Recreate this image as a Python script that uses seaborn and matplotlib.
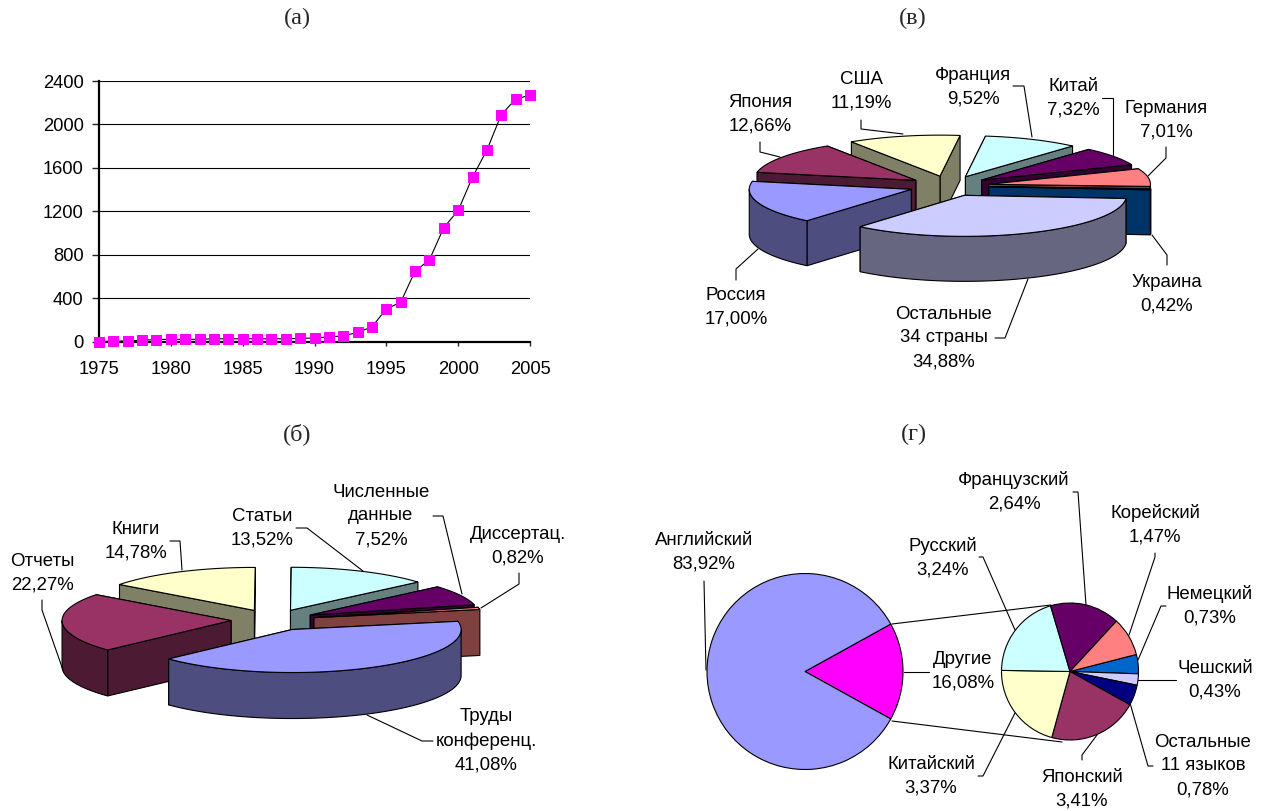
import numpy as np
import matplotlib
matplotlib.use("Agg")
import matplotlib.pyplot as plt
import seaborn as sns
from matplotlib.colors import to_rgb
from matplotlib.patches import Polygon

# (а) годы и значения
years = list(range(1975, 2006))
counts = [0, 3, 6, 12, 18, 20, 20, 20, 25, 25, 25, 25, 25, 25, 28, 33, 42, 52,
          83, 135, 300, 362, 648, 752, 1050, 1207, 1515, 1763, 2090, 2233, 2270]

# (в) страны
country_names = ["Остальные\n34 страны", "Россия", "Япония", "США", "Франция",
                 "Китай", "Германия", "Украина"]
country_values = [34.88, 17.00, 12.66, 11.19, 9.52, 7.32, 7.01, 0.42]
country_colors = ["#CCCCFF", "#9999FF", "#993366", "#FFFFCC", "#CCFFFF",
                  "#660066", "#FF8080", "#0066CC"]

# (б) типы документов
doc_names = ["Труды\nконференц.", "Отчеты", "Книги", "Статьи",
             "Численные\nданные", "Диссертац."]
doc_values = [41.08, 22.27, 14.78, 13.52, 7.52, 0.82]
doc_colors = ["#9999FF", "#993366", "#FFFFCC", "#CCFFFF", "#660066", "#FF8080"]

# (г) языки
main_names = ["Другие", "Английский"]
main_values = [16.08, 83.92]
main_colors = ["#FF00FF", "#9999FF"]
lang_names = ["Немецкий", "Чешский", "Остальные\n11 языков", "Японский",
              "Китайский", "Русский", "Французский", "Корейский"]
lang_values = [0.73, 0.43, 0.78, 3.41, 3.37, 3.24, 2.64, 1.47]
lang_colors = ["#0066CC", "#CCCCFF", "#000080", "#993366", "#FFFFCC", "#CCFFFF",
               "#660066", "#FF8080"]

W, H = 1265, 811
FS = 13.4
LW = 0.8

sns.set_style("white")
plt.rcParams["font.family"] = ["Liberation Sans", "DejaVu Sans"]

fig = plt.figure(figsize=(W / 100, H / 100), dpi=100)

# оверлей в пикселях для круговых диаграмм и подписей
ov = fig.add_axes([0, 0, 1, 1])


def pie3d(ax, values, colors, start, center, rx, ry, depth, gap, order):
    # наклонная круговая диаграмма с вынесенными секторами
    cx, cy = center
    edges = start + np.cumsum([0] + list(values)) * 3.6
    for i in order:
        t0, t1 = edges[i], edges[i + 1]
        mid = np.radians((t0 + t1) / 2)
        ax0 = cx + gap * np.cos(mid)
        ay0 = cy + gap * ry / rx * np.sin(mid)
        top = np.array(to_rgb(colors[i]))
        side = tuple(top * 0.5)

        def rim(a, b):
            t = np.radians(np.linspace(a, b, max(int(abs(b - a)) * 2, 2)))
            return np.column_stack([ax0 + rx * np.cos(t), ay0 + ry * np.sin(t)])

        arc = rim(t0, t1)
        drop = np.array([0, depth])
        apex = np.array([ax0, ay0])

        # боковые стенки: сначала та, что дальше
        ends = sorted([arc[0], arc[-1]], key=lambda p: p[1])
        for p in ends:
            ax.add_patch(Polygon([apex, p, p + drop, apex + drop], closed=True,
                                 fc=side, ec="black", lw=LW))
        # внешняя стенка, только передняя часть
        for k in (-1, 0, 1):
            a, b = max(t0, k * 360), min(t1, k * 360 + 180)
            if b > a:
                part = rim(a, b)
                ax.add_patch(Polygon(np.vstack([part, (part + drop)[::-1]]), closed=True,
                                     fc=side, ec="black", lw=LW))
        ax.add_patch(Polygon(np.vstack([apex, arc]), closed=True,
                             fc=colors[i], ec="black", lw=LW))


def pct(v):
    return f"{v:.2f}%".replace(".", ",")


def label(ax, name, value, x, y):
    ax.text(x, y + 1, name + "\n" + pct(value), ha="center", va="center", fontsize=FS,
            linespacing=1.53, color="black")


def leader(ax, pts):
    xs, ys = zip(*pts)
    ax.plot(xs, ys, color="black", lw=LW, solid_joinstyle="miter")


# (в)
pie3d(ov, country_values, country_colors, 4.5, (949, 186), 162, 41, 45, 40,
      [3, 4, 2, 5, 6, 7, 1, 0])
# (б)
pie3d(ov, doc_values, doc_colors, -11, (273, 620), 169, 43, 46, 42,
      [2, 3, 1, 4, 5, 0])

# (г)
wp = {"edgecolor": "black", "linewidth": LW}
ov.pie(main_values, colors=main_colors, startangle=-main_values[0] * 1.8,
       center=(805, 671.5), radius=98, wedgeprops=wp)
ov.pie(lang_values, colors=lang_colors, startangle=-14.4,
       center=(1070, 671.5), radius=68.5, wedgeprops=wp)
leader(ov, [(892, 624), (1051, 605)])
leader(ov, [(892, 721), (1062, 742)])

# подписи: (центр блока x, y)
country_pos = [(944, 337), (736, 306), (760, 113), (861, 90), (973, 86),
               (1073, 97), (1166, 119), (1167, 293)]
doc_pos = [(486, 740), (42, 572), (136, 540), (262, 527), (381, 515), (518, 545)]
main_pos = [(963, 670), (704, 551)]
lang_pos = [(1210, 605), (1215, 679), (1203, 765), (1082, 788), (931, 775),
            (943, 557), (1014, 491), (1155, 524)]

for names, vals, pos in [(country_names, country_values, country_pos),
                         (doc_names, doc_values, doc_pos),
                         (main_names, main_values, main_pos),
                         (lang_names, lang_values, lang_pos)]:
    for n, v, (x, y) in zip(names, vals, pos):
        label(ov, n, v, x, y)

leaders = [
    # (в)
    [(760, 142), (760, 152), (780, 157)],
    [(861, 120), (861, 129), (903, 134)],
    [(1013, 86), (1024, 86), (1032, 137)],
    [(1102, 98), (1113, 98), (1113, 155)],
    [(1166, 147), (1166, 158), (1148, 176)],
    [(1167, 265), (1167, 255), (1152, 235)],
    [(736, 280), (736, 269), (758, 249)],
    [(995, 338), (1005, 338), (1028, 279)],
    # (б)
    [(42, 600), (42, 610), (63, 670)],
    [(170, 541), (180, 541), (182, 570)],
    [(296, 528), (307, 528), (363, 571)],
    [(433, 516), (443, 516), (462, 594)],
    [(519, 573), (519, 584), (481, 608)],
    [(433, 741), (422, 741), (367, 715)],
    # (г)
    [(704, 581), (706, 670)],
    [(904, 672), (929, 672)],
    [(979, 557), (983, 557), (1015, 630)],
    [(1073, 492), (1078, 492), (1086, 605)],
    [(1155, 553), (1155, 557), (1129, 635)],
    [(1166, 606), (1161, 606), (1138, 660)],
    [(1176, 680), (1138, 680)],
    [(1153, 766), (1148, 766), (1130, 703)],
    [(1082, 760), (1082, 755), (1097, 735)],
    [(978, 776), (983, 776), (1015, 713)],
]
for pts in leaders:
    leader(ov, pts)

# заголовки панелей
for txt, x, y in [("(а)", 297, 18), ("(в)", 913, 18), ("(б)", 297, 434), ("(г)", 914, 434)]:
    ov.text(x, y, txt, ha="center", va="center", fontsize=17.5, family="Liberation Serif")

ov.set_aspect("auto")
ov.set_xlim(0, W)
ov.set_ylim(H, 0)
ov.axis("off")

# (а) линейный график
ax = fig.add_axes([99 / W, 1 - 341.5 / H, (530 - 99) / W, (341.5 - 81) / H])
ax.set_facecolor("none")
sns.lineplot(x=years, y=counts, ax=ax, color="black", lw=0.8, marker="s", markersize=7,
             markerfacecolor="#FF00FF", markeredgecolor="#FF00FF", clip_on=False, zorder=5)
ax.set_xlim(1975, 2005)
ax.set_ylim(0, 2400)
ax.set_xticks(range(1975, 2006, 5))
ax.set_yticks(range(0, 2401, 400))
ax.grid(axis="y", color="black", lw=0.8)
ax.grid(axis="x", visible=False)
ax.spines["top"].set_visible(False)
ax.spines["right"].set_visible(False)
ax.spines["left"].set_linewidth(1.6)
ax.spines["bottom"].set_linewidth(1.6)
ax.spines["left"].set_color("black")
ax.spines["bottom"].set_color("black")
ax.tick_params(axis="y", left=True, length=5, width=1, pad=6, labelsize=13.2, labelcolor="black")
ax.tick_params(axis="x", bottom=True, length=3, width=1, pad=11, labelsize=13.2, labelcolor="black")

fig.savefig("out.png", dpi=100)
